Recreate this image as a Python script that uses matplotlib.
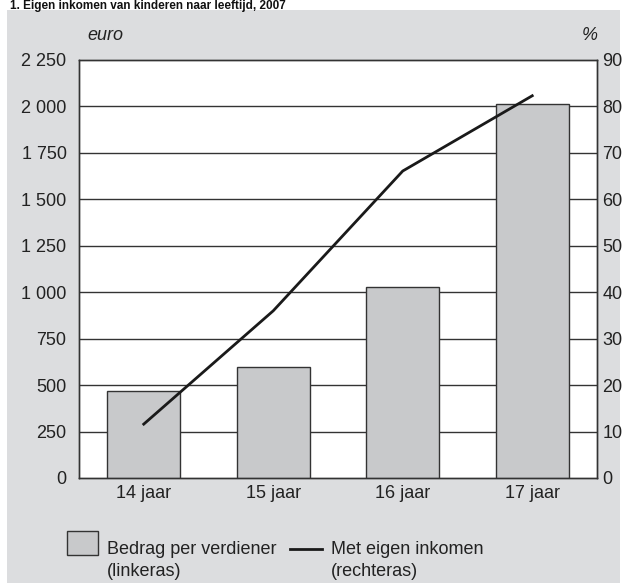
import matplotlib.pyplot as plt
from matplotlib.patches import Rectangle
from matplotlib.lines import Line2D

""" data read off the picture """
leeftijd = ["14 jaar", "15 jaar", "16 jaar", "17 jaar"]
bedrag = [470, 598, 1026, 2011]          # euro, linkeras
met_inkomen = [11.6, 36.0, 66.1, 82.3]   # %, rechteras
links_ticks = [0, 250, 500, 750, 1000, 1250, 1500, 1750, 2000, 2250]
rechts_ticks = [0, 10, 20, 30, 40, 50, 60, 70, 80, 90]

plt.rcParams['font.family'] = ['Liberation Sans', 'DejaVu Sans']

W, H = 627, 583
fig = plt.figure(figsize=(W / 100, H / 100), dpi=100)
fig.patch.set_facecolor('white')

# grey panel behind the chart
fig.patches.append(Rectangle((7 / W, 0), (620 - 7) / W, 1 - 10 / H,
                             transform=fig.transFigure, facecolor='#dcdddf',
                             edgecolor='none', zorder=-5))

# title sits right at the top edge in the original
fig.text(10 / W, 1 - 9 / H, "1. Eigen inkomen van kinderen naar leeftijd, 2007",
         fontsize=8.5, fontweight='bold', va='baseline', ha='left', color='#111')

left, right, top, bottom = 79, 597, 60, 478
ax1 = fig.add_axes([left / W, 1 - bottom / H, (right - left) / W, (bottom - top) / H])
ax1.set_facecolor('white')
ax2 = ax1.twinx()

x = list(range(len(leeftijd)))
ax1.bar(x, bedrag, width=0.56, color='#c8c9cb', edgecolor='#333333', linewidth=1.0, zorder=3)
ax1.set_xlim(-0.5, 3.5)
ax1.set_ylim(0, 2250)
ax1.set_yticks(links_ticks)
ax1.set_yticklabels([f"{v:,}".replace(",", " ") for v in links_ticks])
for v in links_ticks[1:-1]:
    ax1.axhline(v, color='#333333', lw=1.0, zorder=1)
ax1.set_xticks(x)
ax1.set_xticklabels(leeftijd)
ax1.tick_params(axis='both', length=0, labelsize=13, colors='#222222')
ax1.tick_params(axis='y', pad=9)
ax1.tick_params(axis='x', pad=5)

ax2.plot(x, met_inkomen, color='#1a1a1a', lw=2.0, zorder=4)
ax2.set_ylim(0, 90)
ax2.set_yticks(rechts_ticks)
ax2.tick_params(axis='y', length=0, labelsize=13, colors='#222222', pad=4)

for a in (ax1, ax2):
    for s in a.spines.values():
        s.set_color('#333333')
        s.set_linewidth(1.0)

fig.text(87 / W, 1 - 35 / H, "euro", fontsize=13, style='italic', va='center', color='#222')
fig.text(598 / W, 1 - 35 / H, "%", fontsize=13, style='italic', va='center', ha='right', color='#222')

# legend drawn by hand like the original
fig.patches.append(Rectangle((67 / W, 1 - 555 / H), 31 / W, 24 / H, transform=fig.transFigure,
                             facecolor='#c8c9cb', edgecolor='#333333', lw=1.0))
fig.text(107 / W, 1 - 549 / H, "Bedrag per verdiener", fontsize=13, va='center', color='#222')
fig.text(107 / W, 1 - 572 / H, "(linkeras)", fontsize=13, va='center', color='#222')
fig.lines.append(Line2D([290 / W, 322 / W], [1 - 549 / H, 1 - 549 / H],
                        transform=fig.transFigure, color='#1a1a1a', lw=2.0))
fig.text(331 / W, 1 - 549 / H, "Met eigen inkomen", fontsize=13, va='center', color='#222')
fig.text(331 / W, 1 - 572 / H, "(rechteras)", fontsize=13, va='center', color='#222')

fig.savefig("out.png", dpi=100)
